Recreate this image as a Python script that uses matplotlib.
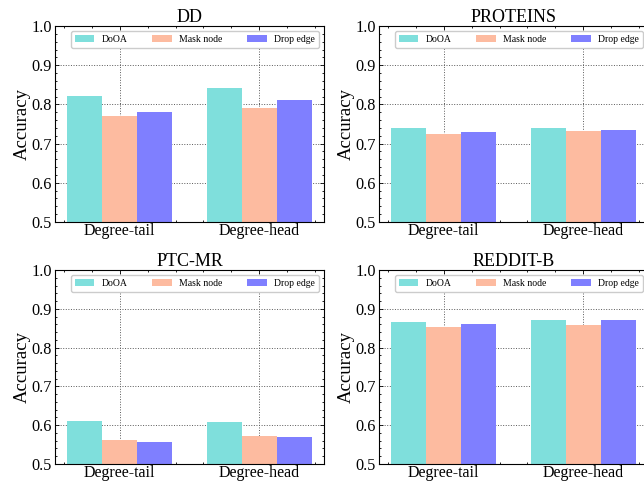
import numpy as np
import matplotlib
matplotlib.use('Agg')
import matplotlib.pyplot as plt
from matplotlib.ticker import AutoMinorLocator

plt.rcParams['font.family'] = ['Liberation Serif', 'DejaVu Serif']
plt.rcParams['xtick.direction'] = 'in'
plt.rcParams['ytick.direction'] = 'in'
plt.rcParams['xtick.top'] = True
plt.rcParams['ytick.right'] = True
plt.rcParams['xtick.major.size'] = 3
plt.rcParams['ytick.major.size'] = 3
plt.rcParams['xtick.minor.size'] = 1.5
plt.rcParams['ytick.minor.size'] = 1.5
plt.rcParams['axes.linewidth'] = 0.8

# data
groups = ['Degree-tail', 'Degree-head']
methods = ['DoOA', 'Mask node', 'Drop edge']
colors = ['#7fdfdc', '#fdbba0', '#7f7fff']

titles = ['DD', 'PROTEINS', 'PTC-MR', 'REDDIT-B']
doa = [[0.821, 0.841], [0.740, 0.740], [0.610, 0.607], [0.867, 0.870]]
mask_node = [[0.770, 0.790], [0.724, 0.732], [0.561, 0.572], [0.852, 0.857]]
drop_edge = [[0.780, 0.811], [0.729, 0.734], [0.556, 0.569], [0.862, 0.870]]

fig = plt.figure(figsize=(6.44, 4.83), dpi=100)
W, H = 644.0, 483.0
# axes boxes in pixels: left, top, right, bottom
boxes = [(55, 26, 324, 222), (379, 26, 648, 222),
         (55, 270, 324, 464), (379, 270, 648, 464)]

x = np.arange(len(groups))
width = 0.25
for k in range(4):
    l, t, r, b = boxes[k]
    ax = fig.add_axes([l / W, (H - b) / H, (r - l) / W, (b - t) / H])
    series = [doa[k], mask_node[k], drop_edge[k]]
    for i in range(3):
        ax.bar(x + (i - 1) * width, series[i], width, color=colors[i],
               label=methods[i], zorder=2)
    ax.set_ylim(0.5, 1.0)
    ax.set_yticks(np.arange(0.5, 1.01, 0.1))
    ax.set_xticks(x)
    ax.set_xticklabels(groups, fontsize=11.5)
    ax.tick_params(axis='y', labelsize=11.7, pad=2)
    ax.tick_params(axis='x', pad=0.5)
    ax.xaxis.set_minor_locator(AutoMinorLocator())
    ax.yaxis.set_minor_locator(AutoMinorLocator())
    ax.tick_params(which='both', width=0.6)
    ax.grid(True, linestyle=':', color='0.35', linewidth=0.7, zorder=0)
    ax.set_axisbelow(True)
    ax.set_title(titles[k], fontsize=13, pad=3)
    ax.set_ylabel('Accuracy', fontsize=13.5, labelpad=1)
    ax.legend(loc='upper right', ncol=3, fontsize=7, frameon=True,
              handlelength=2.0, columnspacing=2.5, borderpad=0.4,
              fancybox=True, edgecolor='0.8', framealpha=1.0)

fig.savefig('out.png', dpi=100)
